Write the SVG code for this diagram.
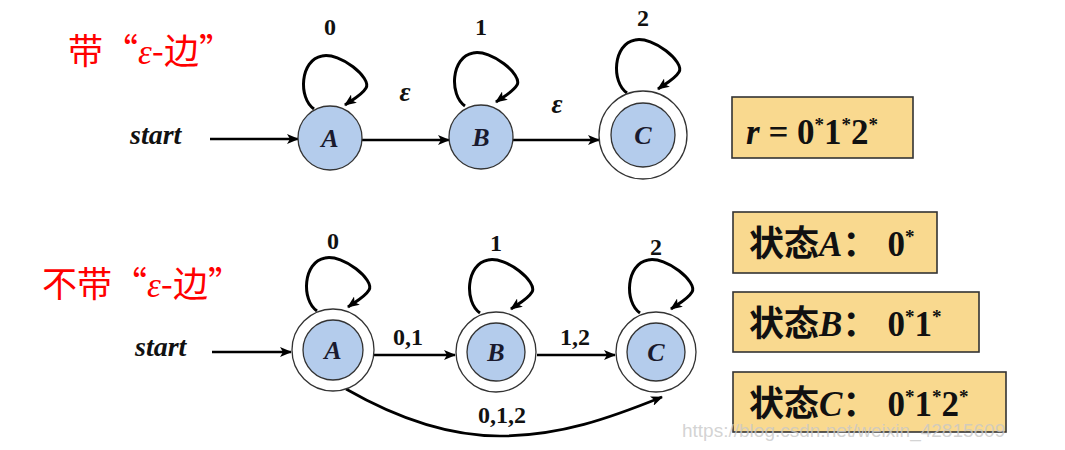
<svg xmlns="http://www.w3.org/2000/svg" width="1065" height="450" viewBox="0 0 1065 450">
<style>
.st{fill:#b4ccec;stroke:#333;stroke-width:1.3}
.ring{fill:#fff;stroke:#333;stroke-width:1.3}
.nl{font-family:"Liberation Serif",serif;font-style:italic;font-weight:bold;font-size:26px;fill:#1a1a2e;text-anchor:middle}
.lbl{font-family:"Liberation Serif",serif;font-weight:bold;font-size:24px;fill:#111;text-anchor:middle}
.eps{font-family:"Liberation Serif",serif;font-style:italic;font-weight:bold;font-size:27px;fill:#111;text-anchor:middle}
.start{font-family:"Liberation Serif",serif;font-style:italic;font-weight:bold;font-size:28px;fill:#111}
.title{font-family:"Noto Sans CJK SC",sans-serif;font-size:35px;fill:#f00}
.box{fill:#f9d98f;stroke:#333;stroke-width:1.6}
.bt{font-family:"Liberation Serif","Noto Sans CJK SC",serif;font-weight:bold;font-size:35px;fill:#111}
.e{fill:none;stroke:#000;stroke-width:2.6;marker-end:url(#ah)}
.lp{fill:none;stroke:#000;stroke-width:3;marker-end:url(#ah)}
</style>
<defs>
<marker id="ah" viewBox="0 0 12 10" refX="11" refY="5" markerWidth="12" markerHeight="10" markerUnits="userSpaceOnUse" orient="auto">
<path d="M0,0 L12,5 L0,10 L3,5 z" fill="#000"/>
</marker>
</defs>

<text class="title" x="68" y="64">带“<tspan font-family="Liberation Serif" font-style="italic">ε</tspan>-边”</text>
<text class="title" x="42" y="297">不带“<tspan font-family="Liberation Serif" font-style="italic">ε</tspan>-边”</text>

<g id="connectors">
<line class="e" x1="210" y1="139" x2="298" y2="139"/>
<line class="e" x1="362" y1="140" x2="449" y2="140"/>
<line class="e" x1="513" y1="140" x2="599" y2="140"/>
<path class="lp" transform="translate(330,107)" d="M-16,2 C-32,-9 -30,-47 -8,-51 C10,-55 42,-29 36,-19 C32,-12 22,-7 15,-2"/>
<path class="lp" transform="translate(481,104)" d="M-16,2 C-32,-9 -30,-47 -8,-51 C10,-55 42,-29 36,-19 C32,-12 22,-7 15,-2"/>
<path class="lp" transform="translate(643,91)" d="M-16,2 C-32,-9 -30,-47 -8,-51 C10,-55 42,-29 36,-19 C32,-12 22,-7 15,-2"/>

<line class="e" x1="212" y1="352" x2="291" y2="352"/>
<line class="e" x1="374" y1="355" x2="455" y2="355"/>
<line class="e" x1="537" y1="355" x2="615" y2="355"/>
<path class="lp" transform="translate(333,309)" d="M-16,2 C-32,-9 -30,-47 -8,-51 C10,-55 42,-29 36,-19 C32,-12 22,-7 15,-2"/>
<path class="lp" transform="translate(496,311)" d="M-16,2 C-32,-9 -30,-47 -8,-51 C10,-55 42,-29 36,-19 C32,-12 22,-7 15,-2"/>
<path class="lp" transform="translate(656,311)" d="M-16,2 C-32,-9 -30,-47 -8,-51 C10,-55 42,-29 36,-19 C32,-12 22,-7 15,-2"/>
<path class="e" d="M346,389 C400,420 450,436 500,436 C560,436 610,418 662,397"/>
</g>

<text class="start" x="130" y="144">start</text>
<text class="lbl" x="330" y="35">0</text>
<text class="lbl" x="481" y="35">1</text>
<text class="lbl" x="643" y="26">2</text>
<text class="eps" x="405" y="101">ε</text>
<text class="eps" x="557" y="113">ε</text>

<text class="start" x="135" y="356">start</text>
<text class="lbl" x="333" y="249">0</text>
<text class="lbl" x="496" y="251">1</text>
<text class="lbl" x="656" y="255">2</text>
<text class="lbl" x="408" y="345">0,1</text>
<text class="lbl" x="575" y="345">1,2</text>
<text class="lbl" x="502" y="423">0,1,2</text>

<g id="nodeA1"><circle class="st" cx="330" cy="138" r="32"/><text class="nl" x="330" y="147">A</text></g>
<g id="nodeB1"><circle class="st" cx="481" cy="137" r="32"/><text class="nl" x="481" y="146">B</text></g>
<g id="nodeC1"><circle class="ring" cx="643" cy="135" r="44"/><circle class="st" cx="643" cy="135" r="32"/><text class="nl" x="643" y="144">C</text></g>

<g id="nodeA2"><circle class="ring" cx="333" cy="350" r="41"/><circle class="st" cx="333" cy="350" r="30"/><text class="nl" x="333" y="359">A</text></g>
<g id="nodeB2"><circle class="ring" cx="496" cy="352" r="40"/><circle class="st" cx="496" cy="352" r="29"/><text class="nl" x="496" y="361">B</text></g>
<g id="nodeC2"><circle class="ring" cx="656" cy="352" r="40"/><circle class="st" cx="656" cy="352" r="29"/><text class="nl" x="656" y="361">C</text></g>

<g id="boxR"><rect class="box" x="732" y="97" width="181" height="61"/>
<text class="bt" x="746" y="144" font-size="37"><tspan font-style="italic">r</tspan> = 0<tspan font-size="19" dy="-13">*</tspan><tspan dy="13">1</tspan><tspan font-size="19" dy="-13">*</tspan><tspan dy="13">2</tspan><tspan font-size="19" dy="-13">*</tspan></text></g>

<g id="boxA"><rect class="box" x="733" y="212" width="204" height="61"/>
<text class="bt" x="749" y="256">状态<tspan font-style="italic">A</tspan>：<tspan dx="10">0</tspan><tspan font-size="19" dy="-13">*</tspan></text></g>
<g id="boxB"><rect class="box" x="733" y="292" width="246" height="60"/>
<text class="bt" x="749" y="336">状态<tspan font-style="italic">B</tspan>：<tspan dx="10">0</tspan><tspan font-size="19" dy="-13">*</tspan><tspan dy="13">1</tspan><tspan font-size="19" dy="-13">*</tspan></text></g>
<g id="boxC"><rect class="box" x="733" y="372" width="273" height="60"/>
<text class="bt" x="749" y="416">状态<tspan font-style="italic">C</tspan>：<tspan dx="10">0</tspan><tspan font-size="19" dy="-13">*</tspan><tspan dy="13">1</tspan><tspan font-size="19" dy="-13">*</tspan><tspan dy="13">2</tspan><tspan font-size="19" dy="-13">*</tspan></text></g>

<text x="682" y="437" font-family="Liberation Sans,sans-serif" font-size="19" fill="#c8c8c8" fill-opacity="0.8">https://blog.csdn.net/weixin_42815609</text>
</svg>
